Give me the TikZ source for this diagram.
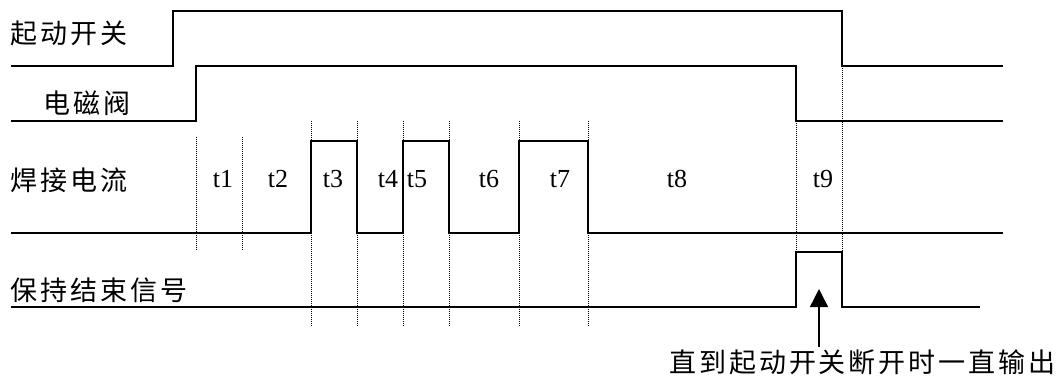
\documentclass[tikz,border=0pt]{standalone}
\usepackage{fontspec}
\setmainfont{Liberation Serif}
\newfontfamily\cjk[LetterSpace=11]{Noto Sans CJK SC}
\usetikzlibrary{arrows.meta}
\tikzset{
  sig/.style={line width=1.6pt, line join=miter},
  guide/.style={line width=0.8pt, dash pattern=on 1pt off 1pt},
  lbl/.style={font=\cjk\fontsize{27}{32}\selectfont, inner sep=0pt, anchor=west},
  tl/.style={font=\fontsize{26}{30}\selectfont, inner sep=0pt},
  note/.style={-{Triangle[length=18pt,width=18pt]}, line width=1.4pt}
}
\begin{document}
\begin{tikzpicture}[x=1pt,y=-1pt]
\useasboundingbox (0,0) rectangle (1061,381);
% labels
\node[lbl] (qd) at (10,33) {起动开关};
\node[lbl] (dc) at (43,103) {电磁阀};
\node[lbl] (hj) at (10,180) {焊接电流};
\node[lbl] (bc) at (10,290) {保持结束信号};
% signals
\draw[sig] (11,66) -- (173,66) -- (173,11) -- (842,11) -- (842,66) -- (1003,66);
\draw[sig] (11,121) -- (196,121) -- (196,66) -- (796,66) -- (796,121) -- (1003,121);
\draw[sig] (11,233) -- (311,233) -- (311,141) -- (357,141) -- (357,233) -- (403,233) -- (403,141) -- (449,141) -- (449,233) -- (519,233) -- (519,141) -- (588,141) -- (588,233) -- (1003,233);
\draw[sig] (11,307) -- (796,307) -- (796,252) -- (842,252) -- (842,307) -- (980,307);
% guides
\draw[guide] (196,137) -- (196,250);
\draw[guide] (242,137) -- (242,250);
\foreach \x in {311,357,403,449,519,588}{\draw[guide] (\x,121) -- (\x,326);}
\draw[guide] (796,121) -- (796,252);
\draw[guide] (842,66) -- (842,252);
% time labels
\node[tl] (t1) at (223,179) {t1};
\node[tl] (t2) at (278,179) {t2};
\node[tl] (t3) at (333,179) {t3};
\node[tl] (t4) at (388,179) {t4};
\node[tl] (t5) at (417,179) {t5};
\node[tl] (t6) at (489,179) {t6};
\node[tl] (t7) at (560,179) {t7};
\node[tl] (t8) at (677,179) {t8};
\node[tl] (t9) at (823,179) {t9};
% note
\node[lbl, anchor=east] (nt) at (1056,362) {直到起动开关断开时一直输出};
\coordinate (tip) at (819,289);
\draw[note] (nt.north -| tip) ++(0,-2) -- (tip);
\end{tikzpicture}
\end{document}
